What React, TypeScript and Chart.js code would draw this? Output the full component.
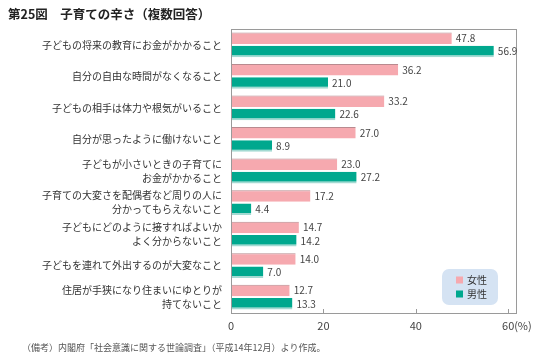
import React, { useEffect, useRef } from "react";
import { Chart, registerables } from "chart.js";

Chart.register(...registerables);

const categories: (string | string[])[] = [
  "子どもの将来の教育にお金がかかること",
  "自分の自由な時間がなくなること",
  "子どもの相手は体力や根気がいること",
  "自分が思ったように働けないこと",
  ["子どもが小さいときの子育てに", "お金がかかること"],
  ["子育ての大変さを配偶者など周りの人に", "分かってもらえないこと"],
  ["子どもにどのように接すればよいか", "よく分からないこと"],
  "子どもを連れて外出するのが大変なこと",
  ["住居が手狭になり住まいにゆとりが", "持てないこと"],
];
const female = [47.8, 36.2, 33.2, 27.0, 23.0, 17.2, 14.7, 14.0, 12.7];
const male = [56.9, 21.0, 22.6, 8.9, 27.2, 4.4, 14.2, 7.0, 13.3];
const xTicks = [0, 20, 40, 60];
const seriesNames = ["女性", "男性"];
const titleText = "第25図　子育ての辛さ（複数回答）";
const noteText = "（備考）内閣府「社会意識に関する世論調査」（平成14年12月）より作成。";
const unitText = "(%)";

const FONT = "'Noto Sans CJK JP', 'Noto Sans', sans-serif";
const PINK = "#f6a9af";
const PINK_EDGE = "#b98a8f";
const TEAL = "#00a88e";
const TEAL_EDGE = "#a3dad2";

const decorPlugin = {
  id: "decor",
  afterDraw(chart: any) {
    const ctx = chart.ctx;
    const area = chart.chartArea;
    const xs = chart.scales.x;
    ctx.save();
    // frame
    ctx.strokeStyle = "#9a9a9a";
    ctx.lineWidth = 1;
    ctx.strokeRect(Math.round(area.left) + 0.5, Math.round(area.top) + 0.5, Math.round(area.right - area.left), Math.round(area.bottom - area.top));
    // inner tick marks
    ctx.beginPath();
    xTicks.forEach((t) => {
      const px = Math.round(xs.getPixelForValue(t)) + 0.5;
      ctx.moveTo(px, area.bottom);
      ctx.lineTo(px, area.bottom - 4);
    });
    ctx.stroke();
    // value labels
    ctx.font = `10px ${FONT}`;
    ctx.fillStyle = "#444";
    ctx.textBaseline = "middle";
    ctx.textAlign = "left";
    chart.data.datasets.forEach((ds: any, di: number) => {
      const meta = chart.getDatasetMeta(di);
      meta.data.forEach((el: any, i: number) => {
        ctx.fillText(Number(ds.data[i]).toFixed(1), el.x + 4, el.y);
      });
    });
    // title
    ctx.font = `bold 12.5px ${FONT}`;
    ctx.fillStyle = "#222";
    ctx.fillText(titleText, 8, 14);
    // note
    ctx.font = `9px ${FONT}`;
    ctx.fillStyle = "#555";
    ctx.fillText(noteText, 22, 348);
    // unit
    ctx.font = `11px ${FONT}`;
    ctx.fillStyle = "#444";
    ctx.fillText(unitText, xs.getPixelForValue(60) + 6, 326);
    // legend
    const lx = 442, ly = 269, lw = 56, lh = 36, r = 7;
    ctx.fillStyle = "#d5e3f3";
    ctx.beginPath();
    ctx.moveTo(lx + r, ly);
    ctx.arcTo(lx + lw, ly, lx + lw, ly + lh, r);
    ctx.arcTo(lx + lw, ly + lh, lx, ly + lh, r);
    ctx.arcTo(lx, ly + lh, lx, ly, r);
    ctx.arcTo(lx, ly, lx + lw, ly, r);
    ctx.closePath();
    ctx.fill();
    const cols = [PINK, TEAL];
    seriesNames.forEach((n, i) => {
      const yy = 280 + i * 14;
      ctx.fillStyle = cols[i];
      ctx.fillRect(456, yy - 3.5, 7, 7);
      ctx.fillStyle = "#333";
      ctx.font = `10px ${FONT}`;
      ctx.fillText(n, 467, yy);
    });
    ctx.restore();
  },
};

export default function App() {
  const ref = useRef<HTMLCanvasElement>(null);
  useEffect(() => {
    document.body.style.margin = "0";
    const chart = new Chart(ref.current!, {
      type: "bar",
      data: {
        labels: categories,
        datasets: [
          {
            label: seriesNames[0],
            data: female,
            backgroundColor: PINK,
            borderColor: PINK_EDGE,
            borderWidth: { top: 1, bottom: 0, left: 0, right: 0 },
            borderSkipped: false,
            categoryPercentage: 0.84,
            barPercentage: 0.87,
          },
          {
            label: seriesNames[1],
            data: male,
            backgroundColor: TEAL,
            borderColor: TEAL_EDGE,
            borderWidth: { top: 0, bottom: 2, left: 0, right: 0 },
            borderSkipped: false,
            categoryPercentage: 0.84,
            barPercentage: 0.87,
          },
        ],
      },
      options: {
        indexAxis: "y",
        responsive: false,
        animation: false,
        layout: { padding: { left: 0, right: 24, top: 29, bottom: 29 } },
        plugins: { legend: { display: false }, tooltip: { enabled: false } },
        scales: {
          x: {
            min: 0,
            max: 61.7,
            afterBuildTicks: (s: any) => {
              s.ticks = xTicks.map((v) => ({ value: v }));
            },
            afterFit: (s: any) => {
              s.height = 20;
            },
            grid: { display: false, drawTicks: false },
            border: { display: false },
            ticks: { font: { family: FONT, size: 11 }, color: "#444", padding: 6, maxRotation: 0 },
          },
          y: {
            afterFit: (s: any) => {
              s.width = 231;
            },
            grid: { display: false, drawTicks: false },
            border: { display: false },
            ticks: { font: { family: FONT, size: 10, lineHeight: 1.4 }, color: "#333", padding: 9, autoSkip: false },
          },
        },
      },
      plugins: [decorPlugin],
    });
    return () => chart.destroy();
  }, []);
  return (
    <div style={{ position: "absolute", left: 0, top: 0, width: 540, height: 362 }}>
      <canvas ref={ref} width={540} height={362} />
    </div>
  );
}
